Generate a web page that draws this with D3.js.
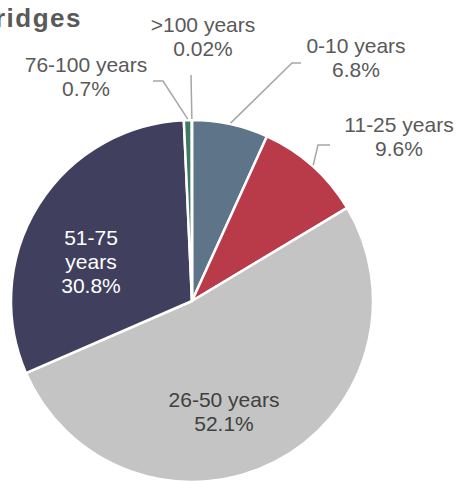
<!DOCTYPE html>
<html>
<head>
<meta charset="utf-8">
<script src="https://cdn.jsdelivr.net/npm/d3@7"></script>
<style>
  body { margin: 0; background: #fff; }
  text { font-family: "Liberation Sans", Arial, sans-serif; }
</style>
</head>
<body>
<div class="piechart"></div>
<script>
// data
var categories = ["0-10 years", "11-25 years", "26-50 years", "51-75 years", "76-100 years", ">100 years"];
var shares = [6.8, 9.6, 52.1, 30.8, 0.7, 0.02];
var shareLabels = ["6.8%", "9.6%", "52.1%", "30.8%", "0.7%", "0.02%"];
var colors = ["#5e7489", "#b93a48", "#c3c4c3", "#40405e", "#3e7a62", "#5e7489"];

// size of the chart
var w = 456;
var h = 481;
var cx = 192;
var cy = 301;
var r = 181;

// where each label goes (text lines, anchor, colour, leader elbow)
var labelLayout = [
    { x: 356, y: 53, lines: ["0-10 years", "6.8%"], fill: "#595959", elbow: [[292, 63], [301, 63]] },
    { x: 399, y: 132, lines: ["11-25 years", "9.6%"], fill: "#595959", elbow: [[318, 145], [330, 145]] },
    { x: 224, y: 407, lines: ["26-50 years", "52.1%"], fill: "#404040", elbow: null },
    { x: 91, y: 245, lines: ["51-75", "years", "30.8%"], fill: "#ffffff", elbow: null },
    { x: 86, y: 72, lines: ["76-100 years", "0.7%"], fill: "#595959", elbow: [[163, 81], [153, 81]] },
    { x: 203, y: 32, lines: [">100 years", "0.02%"], fill: "#595959", elbow: [[191, 75]] }
];

//create the svg
var svg = d3.select(".piechart")
            .append("svg")
            .attr("width", w)
            .attr("height", h);

// title, cut off at the left edge like the original
svg.append("text")
    .attr("x", 82)
    .attr("y", 27)
    .attr("text-anchor", "end")
    .attr("font-size", 26)
    .attr("font-weight", "bold")
    .attr("letter-spacing", 1.5)
    .attr("fill", "#595959")
    .text("Age of Bridges");

var pie = d3.pie().sort(null).value(function (d) { return d; });
var arcs = pie(shares);
var arc = d3.arc().innerRadius(0).outerRadius(r);

var g = svg.append("g").attr("transform", "translate(" + cx + "," + cy + ")");

g.selectAll("path")
    .data(arcs)
    .enter()
    .append("path")
    .attr("d", arc)
    .attr("fill", function (d, i) { return colors[i]; })
    .attr("stroke", "#fff")
    .attr("stroke-width", 2.5)
    .attr("stroke-linejoin", "round");

// leader lines from the rim at mid angle to the label
svg.selectAll("polyline.leader")
    .data(arcs.filter(function (d, i) { return labelLayout[i].elbow; }))
    .enter()
    .append("polyline")
    .attr("class", "leader")
    .attr("points", function (d) {
        var a = (d.startAngle + d.endAngle) / 2;
        var start = [cx + (r + 1) * Math.sin(a), cy - (r + 1) * Math.cos(a)];
        var pts = [start].concat(labelLayout[d.index].elbow);
        return pts.map(function (p) { return p.join(","); }).join(" ");
    })
    .attr("fill", "none")
    .attr("stroke", "#a6a6a6")
    .attr("stroke-width", 1.5);

// labels
var labels = svg.selectAll("text.lbl")
    .data(labelLayout)
    .enter()
    .append("text")
    .attr("class", "lbl")
    .attr("text-anchor", "middle")
    .attr("font-size", 21)
    .attr("fill", function (d) { return d.fill; });

labels.selectAll("tspan")
    .data(function (d) { return d.lines.map(function (t) { return { t: t, x: d.x, y: d.y }; }); })
    .enter()
    .append("tspan")
    .attr("x", function (d) { return d.x; })
    .attr("y", function (d, i) { return d.y + i * 24; })
    .text(function (d) { return d.t; });
</script>
</body>
</html>
